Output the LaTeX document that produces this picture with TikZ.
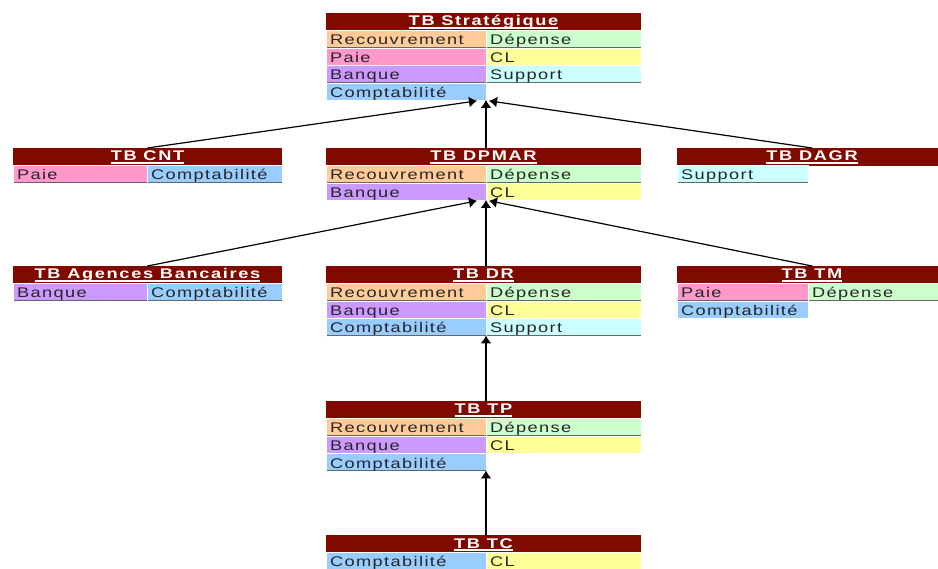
\documentclass[tikz,border=0pt]{standalone}
\usepackage{fontspec}
\usetikzlibrary{arrows.meta}
\newfontfamily\cellfont[FakeStretch=1.3,LetterSpace=10]{Liberation Sans}
\newfontfamily\hdfont[FakeStretch=1.3,LetterSpace=12]{Liberation Sans}
\definecolor{hdred}{RGB}{128,10,0}
\definecolor{crec}{RGB}{255,204,153}
\definecolor{cdep}{RGB}{204,255,204}
\definecolor{cpaie}{RGB}{255,153,204}
\definecolor{ccl}{RGB}{255,255,153}
\definecolor{cbq}{RGB}{204,153,255}
\definecolor{csup}{RGB}{204,255,255}
\definecolor{ccpt}{RGB}{153,204,255}
\newsavebox{\hdbox}
\newcommand{\hdtxt}[1]{\sbox{\hdbox}{#1}\usebox{\hdbox}\llap{\rule[-2.8pt]{\wd\hdbox}{1.4pt}}}
\begin{document}
\begin{tikzpicture}[x=1pt, y=-1pt, line join=round, line cap=round, >={Latex[length=8pt,width=11pt]},
	hd/.style={anchor=north west, fill=hdred, text=white, minimum height=18, inner sep=0, outer sep=0, text height=12, text depth=4, font=\hdfont\bfseries\fontsize{14}{14}\selectfont},
	cell/.style 2 args={anchor=north west, fill=#1, text width=#2, inner xsep=4, inner ysep=0, outer sep=0, minimum height=17.5, text height=12, text depth=1.5, draw=white, line width=1, text=black!85, font=\cellfont\fontsize{14}{14}\selectfont,
		path picture={\draw[black!60, line width=2] (path picture bounding box.north west)--(path picture bounding box.south west)--(path picture bounding box.south east);}},
	link/.style={->, line width=1.2, shorten >=-1}]
	\useasboundingbox (0,0) rectangle (938,569);
	% niveau 1
	\node[hd, minimum width=315] (strat) at (326,13) {\hdtxt{TB Stratégique}};
	\node[cell={crec}{152}] (strat-rec) at (326,31) {Recouvrement};
	\node[cell={cdep}{147}] (strat-dep) at (486,31) {Dépense};
	\node[cell={cpaie}{152}] (strat-paie) at (326,48.5) {Paie};
	\node[cell={ccl}{147}] (strat-cl) at (486,48.5) {CL};
	\node[cell={cbq}{152}] (strat-bq) at (326,66) {Banque};
	\node[cell={csup}{147}] (strat-sup) at (486,66) {Support};
	\node[cell={ccpt}{152}] (strat-cpt) at (326,83.5) {Comptabilité};
	% niveau 2
	\node[hd, minimum width=269] (cnt) at (13,148) {\hdtxt{TB CNT}};
	\node[cell={cpaie}{126}] (cnt-paie) at (13,166) {Paie};
	\node[cell={ccpt}{127}] (cnt-cpt) at (147,166) {Comptabilité};
	\node[hd, minimum width=315] (dpmar) at (326,148) {\hdtxt{TB DPMAR}};
	\node[cell={crec}{152}] (dpmar-rec) at (326,166) {Recouvrement};
	\node[cell={cdep}{147}] (dpmar-dep) at (486,166) {Dépense};
	\node[cell={cbq}{152}] (dpmar-bq) at (326,183.5) {Banque};
	\node[cell={ccl}{147}] (dpmar-cl) at (486,183.5) {CL};
	\node[hd, minimum width=270] (dagr) at (677,148) {\hdtxt{TB DAGR}};
	\node[cell={csup}{123}] (dagr-sup) at (677,166) {Support};
	% niveau 3
	\node[hd, minimum width=269] (agb) at (13,266) {\hdtxt{TB Agences Bancaires}};
	\node[cell={cbq}{126}] (agb-bq) at (13,284) {Banque};
	\node[cell={ccpt}{127}] (agb-cpt) at (147,284) {Comptabilité};
	\node[hd, minimum width=315] (dr) at (326,266) {\hdtxt{TB DR}};
	\node[cell={crec}{152}] (dr-rec) at (326,284) {Recouvrement};
	\node[cell={cdep}{147}] (dr-dep) at (486,284) {Dépense};
	\node[cell={cbq}{152}] (dr-bq) at (326,301.5) {Banque};
	\node[cell={ccl}{147}] (dr-cl) at (486,301.5) {CL};
	\node[cell={ccpt}{152}] (dr-cpt) at (326,319) {Comptabilité};
	\node[cell={csup}{147}] (dr-sup) at (486,319) {Support};
	\node[hd, minimum width=270] (tm) at (677,266) {\hdtxt{TB TM}};
	\node[cell={cpaie}{123}] (tm-paie) at (677,284) {Paie};
	\node[cell={cdep}{131}] (tm-dep) at (808,284) {Dépense};
	\node[cell={ccpt}{123}] (tm-cpt) at (677,301.5) {Comptabilité};
	% niveau 4 et 5
	\node[hd, minimum width=315] (tp) at (326,401) {\hdtxt{TB TP}};
	\node[cell={crec}{152}] (tp-rec) at (326,419) {Recouvrement};
	\node[cell={cdep}{147}] (tp-dep) at (486,419) {Dépense};
	\node[cell={cbq}{152}] (tp-bq) at (326,436.5) {Banque};
	\node[cell={ccl}{147}] (tp-cl) at (486,436.5) {CL};
	\node[cell={ccpt}{152}] (tp-cpt) at (326,454) {Comptabilité};
	\node[hd, minimum width=315] (tc) at (326,535) {\hdtxt{TB TC}};
	\node[cell={ccpt}{152}] (tc-cpt) at (326,552.5) {Comptabilité};
	\node[cell={ccl}{147}] (tc-cl) at (486,552.5) {CL};
	% liens
	\draw[link] (cnt.north) -- ([xshift=-10]strat-cpt.south east);
	\draw[link] (dagr.north) -- ([xshift=4]strat-cpt.south east);
	\draw[link] (agb.north) -- ([xshift=-10]dpmar-bq.south east);
	\draw[link] (tm.north) -- ([xshift=4]dpmar-bq.south east);
	\draw[link] (dpmar.north -| strat-cpt.south east) -- (strat-cpt.south east);
	\draw[link] (dr.north -| dpmar-bq.south east) -- (dpmar-bq.south east);
	\draw[link] (tp.north -| dr-cpt.south east) -- (dr-cpt.south east);
	\draw[link] (tc.north -| tp-cpt.south east) -- (tp-cpt.south east);
\end{tikzpicture}
\end{document}
